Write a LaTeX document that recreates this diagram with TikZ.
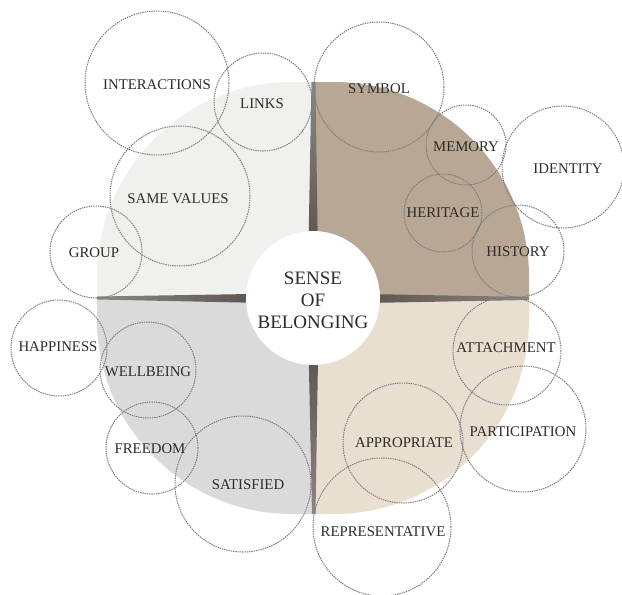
\documentclass[tikz,border=0pt]{standalone}
\usepackage{fontspec}
\setmainfont{Liberation Serif}
\begin{document}
\begin{tikzpicture}[x=1pt,y=-1pt,
  bub/.style={circle, draw=bubgray, line width=1pt, dash pattern=on 1.4pt off 0.9pt, inner sep=0pt},
  lab/.style={font=\fontsize{14.8}{16}\selectfont, text=labgray, inner sep=0pt}]
\definecolor{qtl}{HTML}{F0F0EF}
\definecolor{qtr}{HTML}{B7A794}
\definecolor{qbl}{HTML}{DADADA}
\definecolor{qbr}{HTML}{E9DFD0}
\definecolor{bubgray}{HTML}{7C7C7C}
\definecolor{labgray}{HTML}{2E2B29}
\definecolor{bardark}{HTML}{4A4540}
\definecolor{barlight}{HTML}{8C8680}
\useasboundingbox (0,0) rectangle (622,595);
% quadrants
\fill[qtl] (313,298) -- (97,298) -- (97,277) arc[start angle=180, end angle=270, radius=195] -- (313,82) -- cycle;
\fill[qtr] (313,298) -- (313,82) -- (334,82) arc[start angle=-90, end angle=0, radius=195] -- (529,298) -- cycle;
\fill[qbl] (313,298) -- (97,298) -- (97,319) arc[start angle=180, end angle=90, radius=195] -- (313,514) -- cycle;
\fill[qbr] (313,298) -- (529,298) -- (529,319) arc[start angle=0, end angle=90, radius=195] -- (313,514) -- cycle;
% cross bars
\shade[left color=barlight, right color=bardark] (97,296.5) -- (313,293) -- (313,304) -- (97,299.5) -- cycle;
\shade[left color=bardark, right color=barlight] (313,293) -- (529,297) -- (529,300) -- (313,304) -- cycle;
\shade[top color=barlight, bottom color=bardark] (311.5,82) -- (315.5,82) -- (318.5,298) -- (307.5,298) -- cycle;
\shade[top color=bardark, bottom color=barlight] (307.5,298) -- (319,298) -- (315.5,514) -- (312,514) -- cycle;
% centre
\node[circle, fill=white, minimum size=134pt, inner sep=0pt] (centre) at (313,298) {};
\node[font=\fontsize{19}{22}\selectfont, text=labgray, align=center, inner sep=0pt] (ctext) at (313,300) {SENSE\\OF\\BELONGING};
% bubbles
\node[bub, minimum size=144pt] (cinter) at (157,83) {};
\node[bub, minimum size=98pt] (clinks) at (263,102) {};
\node[bub, minimum size=140pt] (csame) at (180,196) {};
\node[bub, minimum size=92pt] (cgroup) at (96,252) {};
\node[bub, minimum size=130pt] (csymbol) at (379,87) {};
\node[bub, minimum size=80pt] (cmemory) at (466,145) {};
\node[bub, minimum size=122pt] (cidentity) at (563,167) {};
\node[bub, minimum size=78pt] (cheritage) at (443,213) {};
\node[bub, minimum size=92pt] (chistory) at (518,251) {};
\node[bub, minimum size=96pt] (chappy) at (59,348) {};
\node[bub, minimum size=96pt] (cwell) at (148,370) {};
\node[bub, minimum size=92pt] (cfree) at (152,448) {};
\node[bub, minimum size=136pt] (csat) at (243,484) {};
\node[bub, minimum size=108pt] (cattach) at (507,351) {};
\node[bub, minimum size=126pt] (cpart) at (523,429) {};
\node[bub, minimum size=120pt] (cappro) at (403,443) {};
\node[bub, minimum size=138pt] (crep) at (382,527) {};
% labels
\node[lab] (tinter) at (157,85) {INTERACTIONS};
\node[lab] (tlinks) at (262,104) {LINKS};
\node[lab] (tsame) at (178,199) {SAME VALUES};
\node[lab] (tgroup) at (94,253) {GROUP};
\node[lab] (tsymbol) at (379,89) {SYMBOL};
\node[lab] (tmemory) at (466,147) {MEMORY};
\node[lab] (tidentity) at (568,169) {IDENTITY};
\node[lab] (theritage) at (443,213) {HERITAGE};
\node[lab] (thistory) at (518,252) {HISTORY};
\node[lab] (thappy) at (58,347) {HAPPINESS};
\node[lab] (twell) at (148,372) {WELLBEING};
\node[lab] (tfree) at (150,449) {FREEDOM};
\node[lab] (tsat) at (248,485) {SATISFIED};
\node[lab] (tattach) at (506,348) {ATTACHMENT};
\node[lab] (tpart) at (523,432) {PARTICIPATION};
\node[lab] (tappro) at (404,443) {APPROPRIATE};
\node[lab] (trep) at (383,532) {REPRESENTATIVE};
\end{tikzpicture}
\end{document}
